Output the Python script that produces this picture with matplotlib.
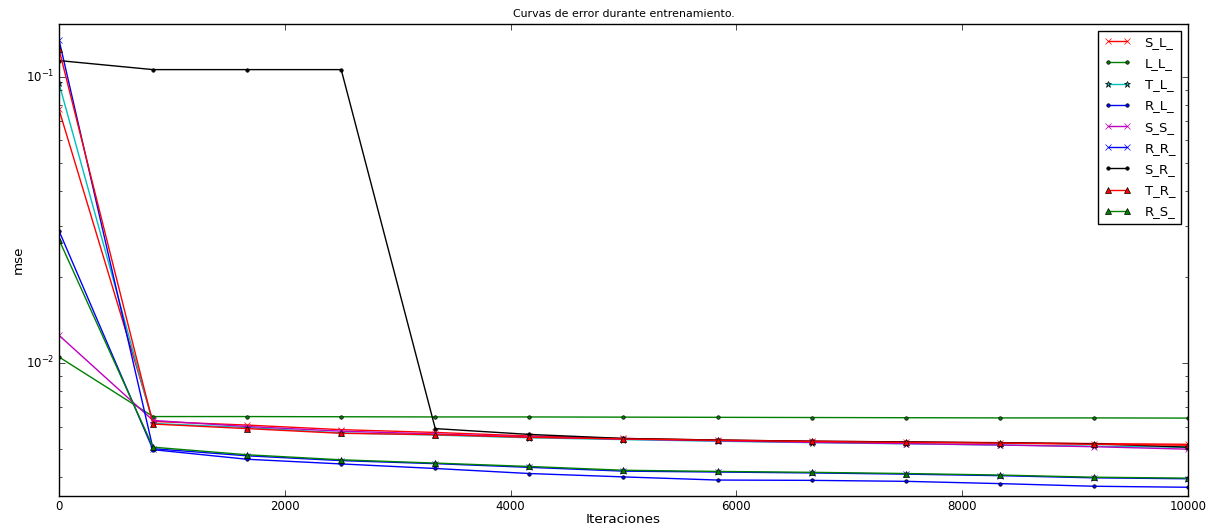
import numpy as np
import matplotlib
matplotlib.use("Agg")
import matplotlib.pyplot as plt

plt.style.use('classic')

iteraciones = np.linspace(0, 10000, 13)

S_L_ = [0.077, .00625, .00607, .00585, .00572, .00556, .00545, .00538, .00533, .00530, .00527, .00523, .00520]
L_L_ = [0.0105, .00650, .00650, .00649, .00648, .00648, .00647, .00646, .00645, .00644, .00643, .00643, .00642]
T_L_ = [0.095, .00615, .00595, .00570, .00560, .00548, .00540, .00533, .00527, .00522, .00517, .00512, .00508]
R_L_ = [0.029, .00498, .00461, .00444, .00428, .00411, .00400, .00390, .00389, .00386, .00379, .00371, .00368]
S_S_ = [0.0125, .00630, .00600, .00578, .00565, .00552, .00542, .00535, .00528, .00523, .00517, .00510, .00500]
R_R_ = [0.135, .00502, .00474, .00456, .00445, .00432, .00419, .00416, .00413, .00409, .00404, .00397, .00394]
S_R_ = [0.114, 0.106, 0.106, 0.106, .00590, .00563, .00545, .00538, .00533, .00530, .00526, .00522, .00508]
T_R_ = [0.125, .00612, .00590, .00568, .00562, .00550, .00543, .00537, .00532, .00528, .00525, .00520, .00516]
R_S_ = [0.027, .00508, .00478, .00459, .00447, .00435, .00422, .00418, .00415, .00411, .00406, .00399, .00396]

series = [("S_L_", S_L_, 'r', 'x'), ("L_L_", L_L_, 'g', '.'), ("T_L_", T_L_, 'c', '*'),
          ("R_L_", R_L_, 'b', '.'), ("S_S_", S_S_, 'm', 'x'), ("R_R_", R_R_, 'b', 'x'),
          ("S_R_", S_R_, 'k', '.'), ("T_R_", T_R_, 'r', '^'), ("R_S_", R_S_, 'g', '^')]

fig = plt.figure(figsize=(12.08, 5.31), dpi=100, facecolor='white')
ax = fig.add_axes([0.0488, 0.0659, 0.9346, 0.8889])
for nombre, valores, c, m in series:
    ax.plot(iteraciones, valores, c=c, marker=m, markersize=5, lw=1.0,
            mec=c if m == 'x' else 'k', mew=0.5, label=nombre)

ax.set_yscale('log')
ax.set_xlim(0, 10000)
ax.set_ylim(0.00343, 0.153)
ax.tick_params(labelsize=8.5, pad=3)
ax.set_title("Curvas de error durante entrenamiento.", fontsize=7.9)
ax.set_xlabel("Iteraciones", fontsize=9.7, labelpad=0)
ax.set_ylabel("mse", fontsize=9.7, labelpad=1)
ax.legend(loc='upper right', fontsize=9.5, labelspacing=0.62,
          handlelength=2.1, handletextpad=1.0)

fig.savefig("out.png", dpi=100, facecolor='white')
